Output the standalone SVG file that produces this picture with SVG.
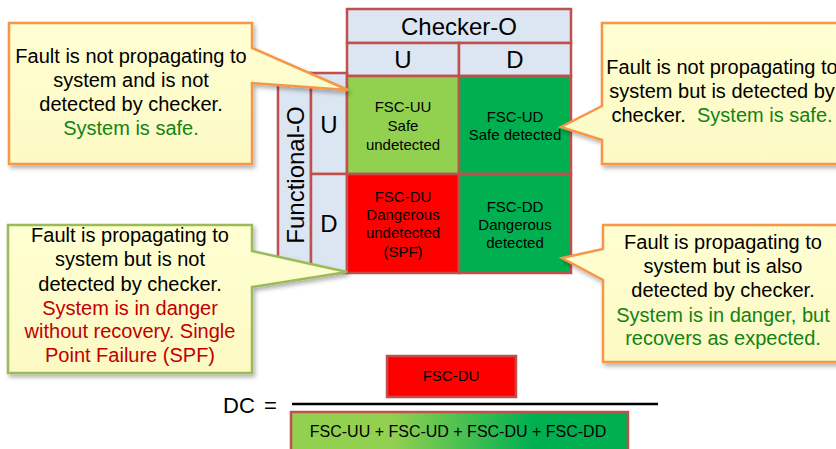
<svg xmlns="http://www.w3.org/2000/svg" width="836" height="449" viewBox="0 0 836 449">
<defs>
<filter id="sh" x="-10%" y="-10%" width="130%" height="130%">
<feDropShadow dx="2" dy="3" stdDeviation="2" flood-color="#000" flood-opacity="0.3"/>
</filter>
<linearGradient id="gsum" x1="0" y1="0" x2="1" y2="0">
<stop offset="0.3" stop-color="#92D050"/>
<stop offset="0.72" stop-color="#00B050"/>
</linearGradient>
<linearGradient id="gcall" x1="0" y1="0" x2="0" y2="1">
<stop offset="0" stop-color="#FFFFD2"/>
<stop offset="1" stop-color="#FCF9C4"/>
</linearGradient>
</defs>
<style>
text{font-family:"Liberation Sans",Arial,sans-serif;fill:#000;}
.m{stroke:#C0504D;stroke-width:2.5;}
.hd{fill:#DCE6F2;}
.h24{font-size:24px;text-anchor:middle;}
.c15{font-size:15px;text-anchor:middle;}
.co{fill:url(#gcall);stroke:#F79646;stroke-width:2.5;stroke-linejoin:miter;filter:url(#sh);}
.cg{fill:url(#gcall);stroke:#9BBB59;stroke-width:2.5;stroke-linejoin:miter;filter:url(#sh);}
.t20{font-size:20px;text-anchor:middle;white-space:pre;}
.gr{fill:#128312;}
.rd{fill:#C00000;}
</style>

<g id="matrix">
<g id="checker-header">
<rect class="m hd" x="347" y="9" width="224" height="34"/>
<text class="h24" x="459" y="35">Checker-O</text>
<rect class="m hd" x="347" y="43" width="112" height="33"/>
<text class="h24" x="403" y="68">U</text>
<rect class="m hd" x="459" y="43" width="112" height="33"/>
<text class="h24" x="515" y="68">D</text>
</g>
<g id="functional-header">
<rect class="m hd" x="278" y="73" width="33" height="200"/>
<text class="h24" transform="translate(303.5,175) rotate(-90)">Functional-O</text>
<rect class="m hd" x="311" y="73" width="36" height="101"/>
<text class="h24" x="329" y="133">U</text>
<rect class="m hd" x="311" y="174" width="36" height="99"/>
<text class="h24" x="329" y="232">D</text>
</g>
<g id="cell-uu">
<rect class="m" fill="#92D050" x="347" y="76" width="112" height="98"/>
<text class="c15" x="403" y="112">FSC-UU</text>
<text class="c15" x="403" y="131">Safe</text>
<text class="c15" x="403" y="150">undetected</text>
</g>
<g id="cell-ud">
<rect class="m" fill="#00B050" x="459" y="76" width="112" height="98"/>
<text class="c15" x="515" y="122">FSC-UD</text>
<text class="c15" x="515" y="140">Safe detected</text>
</g>
<g id="cell-du">
<rect class="m" fill="#FF0000" x="347" y="174" width="112" height="99"/>
<text class="c15" x="403" y="202">FSC-DU</text>
<text class="c15" x="403" y="220">Dangerous</text>
<text class="c15" x="403" y="238">undetected</text>
<text class="c15" x="403" y="257">(SPF)</text>
</g>
<g id="cell-dd">
<rect class="m" fill="#00B050" x="459" y="174" width="112" height="99"/>
<text class="c15" x="515" y="212">FSC-DD</text>
<text class="c15" x="515" y="230">Dangerous</text>
<text class="c15" x="515" y="248">detected</text>
</g>
</g>

<g id="callout-uu">
<path class="co" d="M9,23 H252 V48 L348,90 L252,83 V164 H9 Z"/>
<text class="t20" x="131" y="63">Fault is not propagating to</text>
<text class="t20" x="131" y="87">system and is not</text>
<text class="t20" x="131" y="111">detected by checker.</text>
<text class="t20 gr" x="131" y="135">System is safe.</text>
</g>

<g id="callout-ud">
<path class="co" d="M602,23 H848 V164 H602 V140 L561,127 L602,106 Z"/>
<text class="t20" x="722" y="74">Fault is not propagating to</text>
<text class="t20" x="722" y="98">system but is detected by</text>
<text class="t20" x="722" y="122">checker.  <tspan class="gr">System is safe.</tspan></text>
</g>

<g id="callout-du">
<path class="cg" d="M8,225 H252 V251 L347,272 L252,287 V373 H8 Z"/>
<text class="t20" x="130" y="242">Fault is propagating to</text>
<text class="t20" x="130" y="266">system but is not</text>
<text class="t20" x="130" y="291">detected by checker.</text>
<text class="t20 rd" x="130" y="315">System is in danger</text>
<text class="t20 rd" x="130" y="338">without recovery. Single</text>
<text class="t20 rd" x="130" y="362">Point Failure (SPF)</text>
</g>

<g id="callout-dd">
<path class="co" d="M603,225 H848 V362 H603 V280 L562,258 L603,249 Z"/>
<text class="t20" x="723" y="249">Fault is propagating to</text>
<text class="t20" x="723" y="273">system but is also</text>
<text class="t20" x="723" y="297">detected by checker.</text>
<text class="t20 gr" x="723" y="322">System is in danger, but</text>
<text class="t20 gr" x="723" y="345">recovers as expected.</text>
</g>

<g id="formula">
<text x="223" y="413" style="font-size:22px">DC</text>
<text x="264" y="413" style="font-size:22px">=</text>
<g id="numerator">
<rect class="m" fill="#FF0000" x="387" y="356" width="129" height="41"/>
<text class="c15" x="451" y="381">FSC-DU</text>
</g>
<g id="connectors">
<line x1="292" y1="404" x2="658" y2="404" stroke="#000" stroke-width="2.5"/>
</g>
<g id="denominator">
<rect class="m" fill="url(#gsum)" x="291" y="412" width="337" height="45"/>
<text x="458" y="437" style="font-size:16px;text-anchor:middle">FSC-UU + FSC-UD + FSC-DU + FSC-DD</text>
</g>
</g>
</svg>
